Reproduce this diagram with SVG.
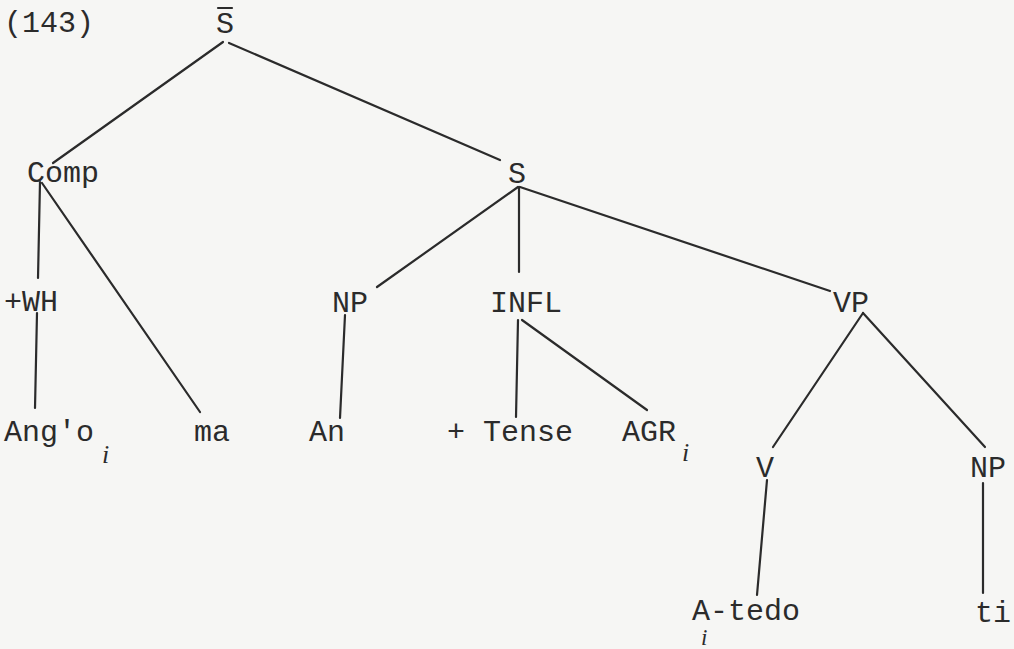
<svg xmlns="http://www.w3.org/2000/svg" width="1014" height="649" viewBox="0 0 1014 649">
<style>
.t{font-family:"Liberation Mono","DejaVu Sans Mono",monospace;font-size:30px;fill:#2b2b2b}
.s{font-family:"Liberation Serif","DejaVu Serif",serif;font-style:italic;font-size:26px;fill:#2b2b2b}
.e{stroke:#2b2b2b;stroke-width:2.2;fill:none;stroke-linecap:round}
</style>
<rect width="1014" height="649" fill="#f6f6f4"/>
<text class="t" x="4" y="32">(143)</text>
<g id="connectors">
<line class="e" x1="223" y1="42" x2="53" y2="163"/>
<line class="e" x1="229" y1="43" x2="500" y2="160"/>
<line class="e" x1="40" y1="182" x2="38" y2="278"/>
<line class="e" x1="42" y1="183" x2="200" y2="412"/>
<line class="e" x1="37" y1="313" x2="35" y2="408"/>
<line class="e" x1="518" y1="187" x2="377" y2="287"/>
<line class="e" x1="519" y1="187" x2="519" y2="272"/>
<line class="e" x1="520" y1="187" x2="830" y2="291"/>
<line class="e" x1="345" y1="315" x2="340" y2="418"/>
<line class="e" x1="518" y1="320" x2="516" y2="417"/>
<line class="e" x1="522" y1="320" x2="647" y2="410"/>
<line class="e" x1="863" y1="313" x2="773" y2="447"/>
<line class="e" x1="863" y1="313" x2="985" y2="447"/>
<line class="e" x1="767" y1="480" x2="757" y2="595"/>
<line class="e" x1="983" y1="483" x2="983" y2="593"/>
</g>
<g id="n-sbar"><text class="t" x="216" y="33">S</text><line class="e" x1="218" y1="8" x2="232" y2="8"/></g>
<g id="n-comp"><text class="t" x="27" y="182">Comp</text></g>
<g id="n-s"><text class="t" x="508" y="183">S</text></g>
<g id="n-wh"><text class="t" x="4" y="311">+WH</text></g>
<g id="n-np1"><text class="t" x="332" y="312">NP</text></g>
<g id="n-infl"><text class="t" x="490" y="312">INFL</text></g>
<g id="n-vp"><text class="t" x="833" y="312">VP</text></g>
<g id="n-ango"><text class="t" x="4" y="441">Ang'o</text><text class="s" x="102" y="463">i</text></g>
<g id="n-ma"><text class="t" x="194" y="441">ma</text></g>
<g id="n-an"><text class="t" x="309" y="441">An</text></g>
<g id="n-tense"><text class="t" x="447" y="441">+ Tense</text></g>
<g id="n-agr"><text class="t" x="622" y="441">AGR</text><text class="s" x="682" y="461">i</text></g>
<g id="n-v"><text class="t" x="756" y="477">V</text></g>
<g id="n-np2"><text class="t" x="970" y="477">NP</text></g>
<g id="n-atedo"><text class="t" x="692" y="620">A-tedo</text><text class="s" style="font-size:23px" x="701" y="645">i</text></g>
<g id="n-ti"><text class="t" x="975" y="622">ti</text></g>
</svg>
